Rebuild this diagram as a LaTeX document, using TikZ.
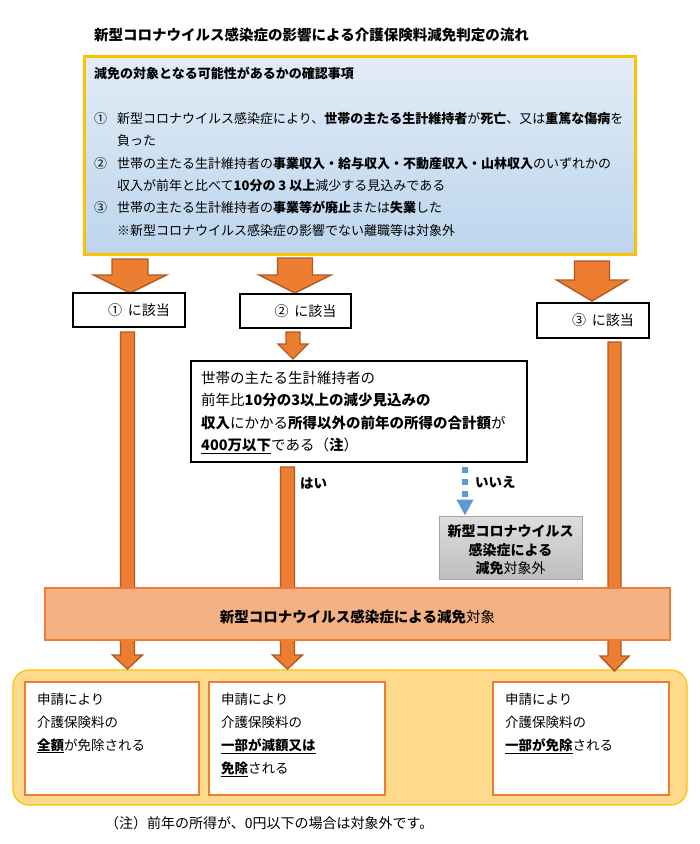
\documentclass[tikz,border=0pt]{standalone}
\usepackage{fontspec}
\setmainfont{Noto Sans CJK JP}
\usetikzlibrary{calc,arrows.meta}
\definecolor{orangeA}{HTML}{ED7D31}
\definecolor{orangeD}{HTML}{AE5A21}
\definecolor{goldA}{HTML}{FFC000}
\definecolor{peachA}{HTML}{F4B183}
\definecolor{creamA}{HTML}{FFD98C}
\definecolor{blueA}{HTML}{5B9BD5}
\definecolor{grayB}{HTML}{A5A5A5}
\pgfdeclareverticalshading{topshade}{100bp}{color(0bp)=({rgb,255:red,197;green,219;blue,240}); color(4bp)=({rgb,255:red,172;green,203;blue,233}); color(100bp)=({rgb,255:red,245;green,248;blue,252})}
\newcommand{\blockarrow}[5]{%
  \draw[barrow] ($(#1)+(-#3,0)$) -- ($(#2)+(-#3,-#5)$) -- ($(#2)+(-#4,-#5)$) -- (#2) -- ($(#2)+(#4,-#5)$) -- ($(#2)+(#3,-#5)$) -- ($(#1)+(#3,0)$) -- cycle;}
\tikzset{
  barrow/.style={fill=orangeA, draw=orangeD, line width=1.4pt, line join=miter},
  tl/.style={anchor=base west, inner sep=0pt},
  f13/.style={font=\fontsize{13}{13}\selectfont},
  f135/.style={font=\fontsize{13.5}{13.5}\selectfont},
  f145/.style={font=\fontsize{14.5}{14.5}\selectfont},
  hitbox/.style={draw=black, line width=2pt, fill=white, minimum width=112pt, minimum height=34pt, inner sep=0pt, font=\fontsize{14}{14}\selectfont},
  resbox/.style={draw=orangeA, line width=2pt, fill=white, minimum width=176pt, minimum height=113pt, inner sep=0pt},
}
\begin{document}
\begin{tikzpicture}[x=1pt,y=-1pt]
\useasboundingbox[fill=white] (0,0) rectangle (700,844);

% title
\node[tl, font=\bfseries\fontsize{14.5}{14.5}\selectfont] (title) at (94,40.5) {新型コロナウイルス感染症の影響による介護保険料減免判定の流れ};

% top box
\node[draw=goldA, line width=3pt, shading=topshade, minimum width=551pt, minimum height=198pt, anchor=north west, inner sep=0pt] (top) at (83,55) {};
\node[tl, font=\bfseries\fontsize{13}{13}\selectfont] (hdr) at (94,78) {減免の対象となる可能性があるかの確認事項};
\node[tl, f13] (c1) at (94,123) {①};
\node[tl, f13] (l1) at (117,123) {新型コロナウイルス感染症により、\textbf{世帯の主たる生計維持者}が\textbf{死亡}、又は\textbf{重篤な傷病}を};
\node[tl, f13] (l2) at (117,145.5) {負った};
\node[tl, f13] (c2) at (94,168) {②};
\node[tl, f13] (l3) at (117,168) {世帯の主たる生計維持者の\textbf{事業収入・給与収入・不動産収入・山林収入}のいずれかの};
\node[tl, f13] (l4) at (117,190) {収入が前年と比べて\textbf{10分の 3 以上}減少する見込みである};
\node[tl, f13] (c3) at (94,212.5) {③};
\node[tl, f13] (l5) at (117,212.5) {世帯の主たる生計維持者の\textbf{事業等が廃止}または\textbf{失業}した};
\node[tl, f13] (l6) at (117,235) {※新型コロナウイルス感染症の影響でない離職等は対象外};

% bottom container
\node[draw=goldA, line width=1.2pt, fill=creamA, rounded corners=16pt, minimum width=674pt, minimum height=135pt, inner sep=0pt] (cont) at (350,737.5) {};

% arrow coordinates
\coordinate (a1s) at (130,259); \coordinate (a1e) at (130,293);
\coordinate (a2s) at (295,258); \coordinate (a2e) at (295,293);
\coordinate (a3s) at (592,261); \coordinate (a3e) at (592,301);
\coordinate (s2s) at (293,332); \coordinate (s2e) at (293,359);
\coordinate (L1s) at (127.5,332); \coordinate (L1e) at (127.5,669);
\coordinate (L2s) at (287.5,467); \coordinate (L2e) at (287.5,669);
\coordinate (L3s) at (614.5,342); \coordinate (L3e) at (614.5,671);

\blockarrow{a1s}{a1e}{18}{36.5}{18}
\blockarrow{a2s}{a2e}{17.5}{36}{18}
\blockarrow{a3s}{a3e}{17.5}{35.5}{21}
\blockarrow{s2s}{s2e}{7}{15}{15}
\blockarrow{L1s}{L1e}{7}{15}{14}
\blockarrow{L2s}{L2e}{7}{15}{14}
\blockarrow{L3s}{L3e}{6.5}{14.5}{15}

% hit boxes
\node[hitbox] (h1) at (129,310) {\hspace*{20pt}①\hspace{6pt}に該当};
\node[hitbox, minimum width=111pt] (h2) at (295.5,311) {\hspace*{20pt}②\hspace{6pt}に該当};
\node[hitbox, minimum height=35pt] (h3) at (593,320.5) {\hspace*{20pt}③\hspace{6pt}に該当};

% condition box
\node[draw=black, line width=1.5pt, fill=white, minimum width=336pt, minimum height=101pt, inner sep=0pt] (cond) at (359,411.5) {};
\node[tl, f145] (k1) at (201,383.3) {世帯の主たる生計維持者の};
\node[tl, f145] (k2) at (201,405.3) {前年比\textbf{10分の3以上の減少見込みの}};
\node[tl, f145] (k3) at (201,428.3) {\textbf{収入}にかかる\textbf{所得以外の前年の所得の合計額}が};
\node[tl, f145] (k4) at (201,450.3) {\underline{\textbf{400万以下}}である（\textbf{注}）};

% yes / no
\node[tl, font=\bfseries\fontsize{13.5}{13.5}\selectfont] (yes) at (300,488) {はい};
\node[tl, font=\bfseries\fontsize{13.5}{13.5}\selectfont] (no) at (475,487) {いいえ};
\coordinate (ns) at (465,467);
\node[draw=grayB, line width=1pt, top color={rgb,255:red,221;green,221;blue,221}, bottom color={rgb,255:red,190;green,190;blue,190}, minimum width=143pt, minimum height=63pt, inner sep=0pt] (gray) at (510.5,547.5) {};
\draw[blueA, line width=6pt, dash pattern=on 6pt off 6pt, -{Triangle[width=16pt,length=16pt]}] (ns) -- (gray.north -| ns);
\node[anchor=base, inner sep=0pt, font=\bfseries\fontsize{14}{14}\selectfont] (g1) at (510.5,536) {新型コロナウイルス};
\node[anchor=base, inner sep=0pt, font=\bfseries\fontsize{14}{14}\selectfont] (g2) at (510.5,555) {感染症による};
\node[anchor=base, inner sep=0pt, font=\fontsize{14}{14}\selectfont] (g3) at (510.5,573) {\textbf{減免}対象外};

% middle bar
\node[draw=orangeA, line width=2.5pt, fill=peachA, minimum width=625pt, minimum height=52pt, inner sep=0pt] (bar) at (357.5,614) {};
\node[anchor=base, inner sep=0pt, font=\fontsize{14.5}{14.5}\selectfont] (bart) at (357.5,622.5) {\textbf{新型コロナウイルス感染症による減免}対象};

% result boxes
\node[resbox, minimum width=174pt] (r1) at (112,738.5) {};
\node[resbox] (r2) at (297,738.5) {};
\node[resbox] (r3) at (581,738.5) {};
\node[tl, f135] (r1a) at (37,704) {申請により};
\node[tl, f135] (r1b) at (37,727) {介護保険料の};
\node[tl, f135] (r1c) at (37,750) {\underline{\textbf{全額}}が免除される};
\node[tl, f135] (r2a) at (221,704) {申請により};
\node[tl, f135] (r2b) at (221,727) {介護保険料の};
\node[tl, f135] (r2c) at (221,750) {\underline{\textbf{一部が減額又は}}};
\node[tl, f135] (r2d) at (221,773) {\underline{\textbf{免除}}される};
\node[tl, f135] (r3a) at (505,704) {申請により};
\node[tl, f135] (r3b) at (505,727) {介護保険料の};
\node[tl, f135] (r3c) at (505,750) {\underline{\textbf{一部が免除}}される};

% footnote
\node[tl, font=\fontsize{14}{14}\selectfont] (note) at (105,828) {（注）前年の所得が、0円以下の場合は対象外です。};
\end{tikzpicture}
\end{document}
